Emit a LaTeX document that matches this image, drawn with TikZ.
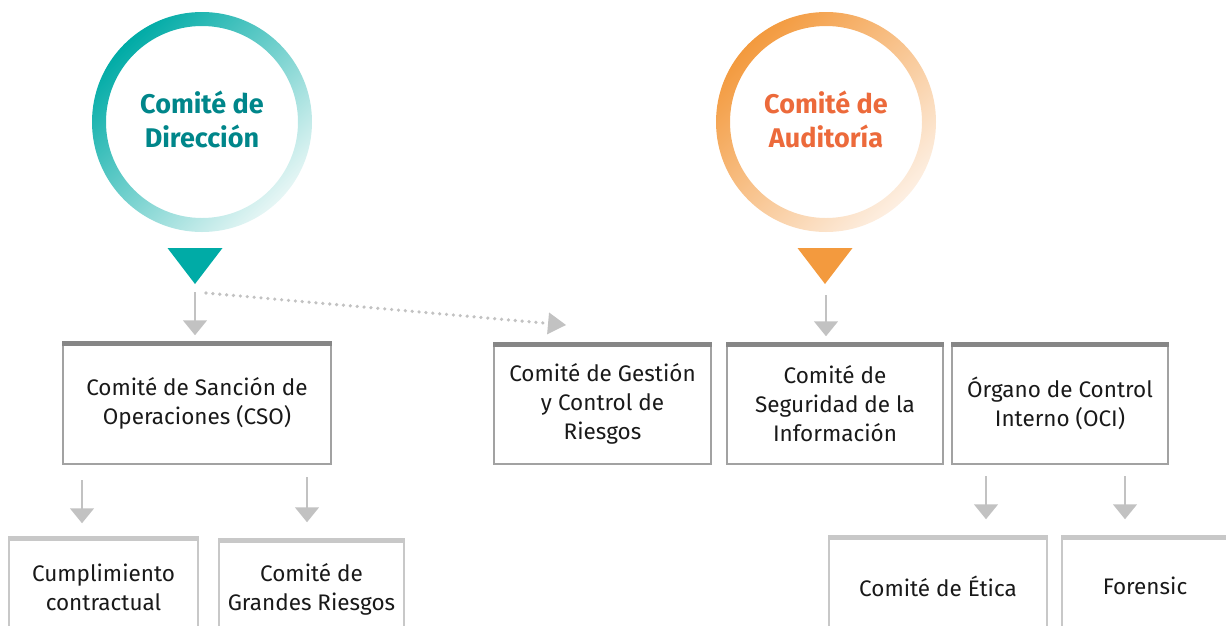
\documentclass[tikz,border=0pt]{standalone}
\usepackage{fontspec}
\setmainfont{Fira Sans}
\usepackage{xcolor}
\usetikzlibrary{arrows.meta}

\definecolor{dirteal}{HTML}{00ABA6}
\definecolor{dirpale}{HTML}{E6F6F5}
\definecolor{dirtext}{HTML}{00868A}
\definecolor{audorange}{HTML}{F39A3E}
\definecolor{audpale}{HTML}{FDEFE2}
\definecolor{audtext}{HTML}{EC6A3B}
\definecolor{bardark}{HTML}{868686}
\definecolor{boxgray}{HTML}{A2A2A2}
\definecolor{barlight}{HTML}{C8C8C8}
\definecolor{arrowgray}{HTML}{C2C2C2}

\tikzset{
  ringlabel/.style={align=center, font=\fontsize{27}{34}\selectfont\bfseries},
  mainbox/.style={draw=boxgray, line width=1.5pt, fill=white, align=center, text=black!90, font=\fontsize{22.5}{29}\selectfont},
  subbox/.style={mainbox, draw=barlight},
  garrow/.style={draw=arrowgray, line width=1.5pt, -{Triangle[width=24pt,length=15pt,color=arrowgray]}},
  dotarrow/.style={draw=arrowgray, line width=3.6pt, line cap=round, dash pattern=on 0pt off 6.9pt, -{Triangle[width=22pt,length=18pt,line width=0pt,color=arrowgray]}}
}

\begin{document}
\begin{tikzpicture}[x=1pt,y=-1pt]
        \useasboundingbox (0,0) rectangle (1226,625);
        \clip (0,0) rectangle (1226,625);

        \node[ringlabel, text=dirtext] (dir) at (202,119) {Comité de\\Dirección};
        \shade[even odd rule, top color=dirteal, middle color=dirteal!55!white, bottom color=dirpale, shading angle=45]
            (202,122) circle (110pt) (202,122) circle (96pt);
        \node[ringlabel, text=audtext] (aud) at (826,119) {Comité de\\Auditoría};
        \shade[even odd rule, top color=audorange, middle color=audorange!55!white, bottom color=audpale, shading angle=45]
            (826,122) circle (110pt) (826,122) circle (96pt);

        \coordinate (dirtip) at (195,284);
        \fill[dirteal] (dirtip) -- ++(-27.5,-36) -- ++(55,0) -- cycle;
        \coordinate (audtip) at (825,284);
        \fill[audorange] (audtip) -- ++(-27.5,-36) -- ++(55,0) -- cycle;

        \node[mainbox, minimum width=268pt, minimum height=122pt] (cso) at (197,403) {Comité de Sanción de\\Operaciones (CSO)};
        \node[mainbox, minimum width=217pt, minimum height=121pt] (gest) at (602.5,403.5) {Comité de Gestión\\y Control de\\Riesgos};
        \node[mainbox, minimum width=216pt, minimum height=121pt] (seg) at (835,403.5) {Comité de\\Seguridad de la\\Información};
        \node[mainbox, minimum width=216pt, minimum height=121pt] (oci) at (1060,403.5) {Órgano de Control\\Interno (OCI)};
        \foreach \b in {cso,gest,seg,oci}
            \fill[bardark] (\b.north west) rectangle ([yshift=-5pt]\b.north east);

        \node[subbox, minimum width=189pt, minimum height=100pt] (cump) at (103.5,587) {Cumplimiento\\contractual};
        \node[subbox, minimum width=185pt, minimum height=100pt] (grand) at (311.5,589) {Comité de\\Grandes Riesgos};
        \node[subbox, minimum width=218pt, minimum height=100pt] (etica) at (938,586) {Comité de Ética};
        \node[subbox, minimum width=166pt, minimum height=100pt] (foren) at (1145,586) {Forensic};
        \fill[barlight] (cump.north west) rectangle ([yshift=-5pt]cump.north east);
        \fill[barlight] (grand.north west) rectangle ([yshift=-5pt]grand.north east);
        \fill[barlight] (etica.north west) rectangle ([yshift=-5pt]etica.north east);
        \fill[barlight] (foren.north west) rectangle ([yshift=-5pt]foren.north east);

        \coordinate (dirdown) at (195,292);
        \coordinate (auddown) at (826,295);
        \coordinate (csoleft) at (82,480);
        \coordinate (csoright) at (307,477);
        \coordinate (ocileft) at (986,476);
        \coordinate (ociright) at (1125,476);
        \draw[garrow, shorten >=6pt] (dirdown) -- (dirdown |- cso.north);
        \draw[garrow, shorten >=6pt] (auddown) -- (auddown |- seg.north);
        \draw[garrow, shorten >=13pt] (csoleft) -- (csoleft |- cump.north);
        \draw[garrow, shorten >=16pt] (csoright) -- (csoright |- grand.north);
        \draw[garrow, shorten >=16pt] (ocileft) -- (ocileft |- etica.north);
        \draw[garrow, shorten >=16pt] (ociright) -- (ociright |- foren.north);

        \coordinate (dotstart) at (206,293);
        \coordinate (dotend) at (566,325);
        \draw[dotarrow] (dotstart) -- (dotend);

    \end{tikzpicture}
\end{document}
